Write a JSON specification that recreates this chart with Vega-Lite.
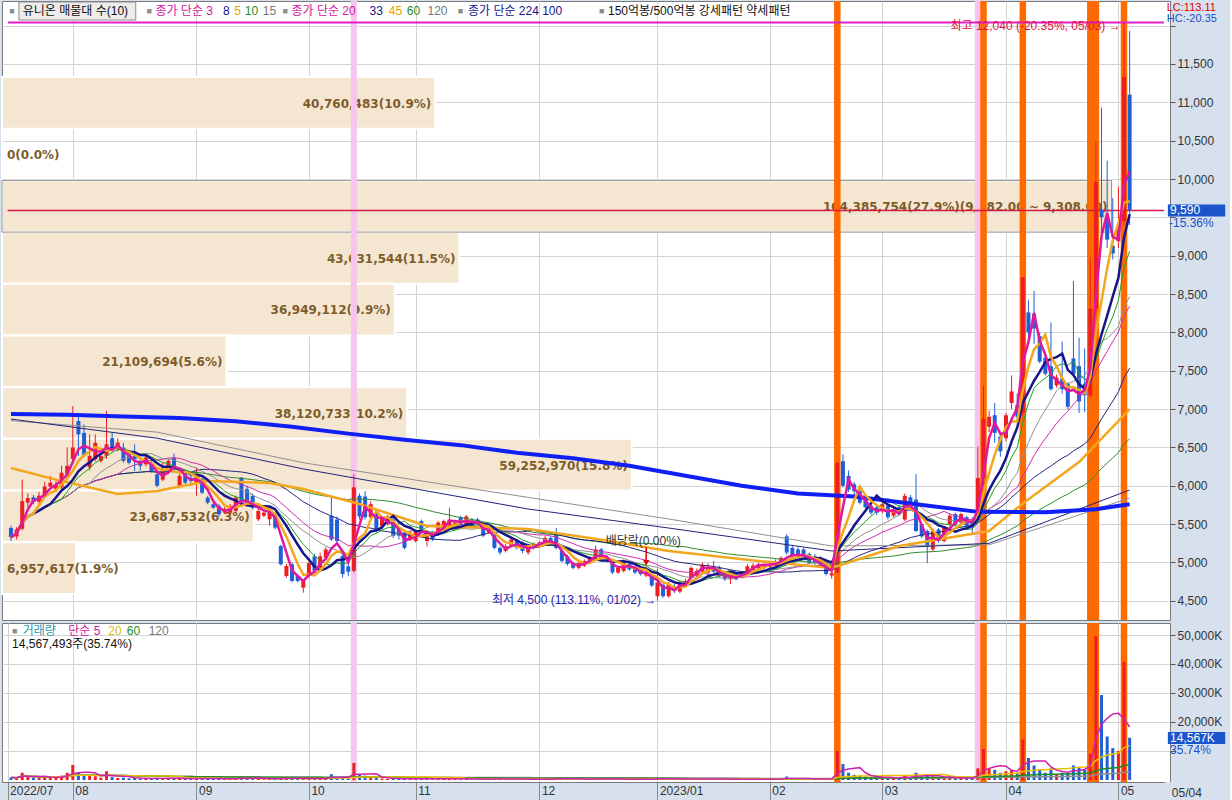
{
"$schema":"https://vega.github.io/schema/vega-lite/v6.json",
"background":"#d7e1ee",
"padding":0,
"autosize":{"type":"pad"},
"spacing":1,
"config":{
 "view":{"fill":"#ffffff","stroke":"#7a7a7a","strokeWidth":1},
 "font":"Liberation Sans, Noto Sans CJK KR",
 "text":{"font":"Liberation Sans, Noto Sans CJK KR","fontSize":12},
 "axis":{"labelFont":"Liberation Sans","labelFontSize":12,"labelColor":"#333333","gridColor":"#d3d3d3","gridWidth":1,"domainColor":"#7a7a7a","tickColor":"#555555"}
},
"datasets":{
"px":[
{"i":0,"o":5450,"h":5480,"l":5280,"c":5330,"v":900},
{"i":1,"o":5340,"h":5460,"l":5300,"c":5430,"v":700},
{"i":2,"o":5440,"h":6080,"l":5420,"c":5800,"v":2500},
{"i":3,"o":5780,"h":5900,"l":5720,"c":5840,"v":1200},
{"i":4,"o":5850,"h":5880,"l":5760,"c":5790,"v":800},
{"i":5,"o":5790,"h":5920,"l":5760,"c":5870,"v":900},
{"i":6,"o":5880,"h":6050,"l":5850,"c":5990,"v":1100},
{"i":7,"o":5990,"h":6130,"l":5950,"c":6040,"v":1000},
{"i":8,"o":5960,"h":6060,"l":5920,"c":6010,"v":700},
{"i":9,"o":5980,"h":6260,"l":5960,"c":6170,"v":1500},
{"i":10,"o":6150,"h":6500,"l":6100,"c":6260,"v":2500},
{"i":11,"o":6350,"h":7040,"l":6300,"c":6500,"v":5200},
{"i":12,"o":6845,"h":6950,"l":6390,"c":6670,"v":2600},
{"i":13,"o":6690,"h":6800,"l":6380,"c":6400,"v":1500},
{"i":14,"o":6240,"h":6670,"l":6200,"c":6390,"v":1400},
{"i":15,"o":6345,"h":6670,"l":6320,"c":6560,"v":1300},
{"i":16,"o":6324,"h":6450,"l":6300,"c":6390,"v":800},
{"i":17,"o":6390,"h":6976,"l":6350,"c":6540,"v":3000},
{"i":18,"o":6620,"h":6700,"l":6450,"c":6476,"v":1000},
{"i":19,"o":6476,"h":6620,"l":6450,"c":6563,"v":700},
{"i":20,"o":6498,"h":6560,"l":6300,"c":6324,"v":800},
{"i":21,"o":6410,"h":6460,"l":6280,"c":6300,"v":600},
{"i":22,"o":6390,"h":6540,"l":6190,"c":6345,"v":700},
{"i":23,"o":6324,"h":6350,"l":6200,"c":6260,"v":500},
{"i":24,"o":6280,"h":6400,"l":6250,"c":6367,"v":500},
{"i":25,"o":6300,"h":6330,"l":6170,"c":6193,"v":500},
{"i":26,"o":6150,"h":6180,"l":5980,"c":6000,"v":700},
{"i":27,"o":6080,"h":6300,"l":6060,"c":6200,"v":600},
{"i":28,"o":6193,"h":6350,"l":6150,"c":6324,"v":600},
{"i":29,"o":6367,"h":6420,"l":6190,"c":6215,"v":500},
{"i":30,"o":6000,"h":6170,"l":5980,"c":6130,"v":500},
{"i":31,"o":6170,"h":6200,"l":6020,"c":6040,"v":400},
{"i":32,"o":6106,"h":6150,"l":6000,"c":6063,"v":400},
{"i":33,"o":6040,"h":6237,"l":5870,"c":6150,"v":700},
{"i":34,"o":6085,"h":6100,"l":5890,"c":5910,"v":600},
{"i":35,"o":5845,"h":5870,"l":5760,"c":5780,"v":500},
{"i":36,"o":5760,"h":5790,"l":5700,"c":5715,"v":400},
{"i":37,"o":5737,"h":5760,"l":5600,"c":5628,"v":500},
{"i":38,"o":5650,"h":5720,"l":5630,"c":5693,"v":300},
{"i":39,"o":5650,"h":5760,"l":5630,"c":5737,"v":300},
{"i":40,"o":5672,"h":5870,"l":5650,"c":5845,"v":600},
{"i":41,"o":6106,"h":6115,"l":5780,"c":5802,"v":1200},
{"i":42,"o":5955,"h":6000,"l":5740,"c":5760,"v":600},
{"i":43,"o":5867,"h":5900,"l":5690,"c":5715,"v":500},
{"i":44,"o":5563,"h":5700,"l":5540,"c":5672,"v":400},
{"i":45,"o":5610,"h":5690,"l":5590,"c":5650,"v":300},
{"i":46,"o":5563,"h":5680,"l":5480,"c":5650,"v":300},
{"i":47,"o":5628,"h":5650,"l":5430,"c":5454,"v":500},
{"i":48,"o":5215,"h":5230,"l":4960,"c":4976,"v":900},
{"i":49,"o":4824,"h":4980,"l":4800,"c":4954,"v":600},
{"i":50,"o":4976,"h":5000,"l":4740,"c":4759,"v":500},
{"i":51,"o":4824,"h":4850,"l":4740,"c":4759,"v":400},
{"i":52,"o":4672,"h":4780,"l":4606,"c":4759,"v":500},
{"i":53,"o":4830,"h":5010,"l":4800,"c":4990,"v":600},
{"i":54,"o":5080,"h":5110,"l":4870,"c":4890,"v":500},
{"i":55,"o":4930,"h":5130,"l":4900,"c":5080,"v":500},
{"i":56,"o":5060,"h":5200,"l":5030,"c":5170,"v":600},
{"i":57,"o":5610,"h":5870,"l":5280,"c":5300,"v":2000},
{"i":58,"o":5560,"h":5600,"l":5250,"c":5280,"v":900},
{"i":59,"o":5084,"h":5130,"l":4800,"c":4850,"v":800},
{"i":60,"o":4950,"h":5000,"l":4820,"c":4880,"v":500},
{"i":61,"o":4890,"h":6150,"l":4870,"c":5980,"v":5900},
{"i":62,"o":5870,"h":5900,"l":5560,"c":5600,"v":1800},
{"i":63,"o":5860,"h":5930,"l":5560,"c":5590,"v":1500},
{"i":64,"o":5590,"h":5800,"l":5560,"c":5760,"v":700},
{"i":65,"o":5650,"h":5680,"l":5390,"c":5410,"v":700},
{"i":66,"o":5470,"h":5600,"l":5440,"c":5580,"v":500},
{"i":67,"o":5500,"h":5620,"l":5480,"c":5600,"v":400},
{"i":68,"o":5560,"h":5580,"l":5320,"c":5345,"v":500},
{"i":69,"o":5450,"h":5470,"l":5300,"c":5350,"v":400},
{"i":70,"o":5390,"h":5400,"l":5170,"c":5190,"v":500},
{"i":71,"o":5300,"h":5420,"l":5280,"c":5390,"v":400},
{"i":72,"o":5280,"h":5430,"l":5260,"c":5410,"v":400},
{"i":73,"o":5540,"h":5560,"l":5370,"c":5390,"v":500},
{"i":74,"o":5280,"h":5420,"l":5210,"c":5390,"v":400},
{"i":75,"o":5390,"h":5410,"l":5280,"c":5300,"v":300},
{"i":76,"o":5370,"h":5540,"l":5350,"c":5520,"v":400},
{"i":77,"o":5450,"h":5560,"l":5430,"c":5540,"v":400},
{"i":78,"o":5450,"h":5714,"l":5430,"c":5560,"v":600},
{"i":79,"o":5450,"h":5540,"l":5430,"c":5520,"v":300},
{"i":80,"o":5590,"h":5610,"l":5480,"c":5500,"v":300},
{"i":81,"o":5500,"h":5620,"l":5480,"c":5600,"v":400},
{"i":82,"o":5560,"h":5580,"l":5460,"c":5480,"v":300},
{"i":83,"o":5560,"h":5580,"l":5480,"c":5500,"v":300},
{"i":84,"o":5480,"h":5500,"l":5330,"c":5350,"v":400},
{"i":85,"o":5390,"h":5450,"l":5370,"c":5430,"v":300},
{"i":86,"o":5370,"h":5390,"l":5170,"c":5190,"v":500},
{"i":87,"o":5190,"h":5210,"l":5100,"c":5130,"v":400},
{"i":88,"o":5150,"h":5240,"l":5130,"c":5210,"v":300},
{"i":89,"o":5220,"h":5320,"l":5200,"c":5300,"v":300},
{"i":90,"o":5280,"h":5300,"l":5170,"c":5190,"v":300},
{"i":91,"o":5260,"h":5280,"l":5120,"c":5150,"v":300},
{"i":92,"o":5130,"h":5240,"l":5100,"c":5210,"v":300},
{"i":93,"o":5190,"h":5260,"l":5170,"c":5240,"v":250},
{"i":94,"o":5210,"h":5280,"l":5190,"c":5260,"v":250},
{"i":95,"o":5240,"h":5350,"l":5220,"c":5320,"v":400},
{"i":96,"o":5320,"h":5340,"l":5220,"c":5240,"v":300},
{"i":97,"o":5370,"h":5450,"l":5170,"c":5190,"v":600},
{"i":98,"o":5150,"h":5170,"l":5000,"c":5020,"v":500},
{"i":99,"o":5080,"h":5100,"l":4960,"c":4980,"v":400},
{"i":100,"o":4990,"h":5010,"l":4910,"c":4930,"v":300},
{"i":101,"o":4930,"h":5010,"l":4910,"c":4990,"v":250},
{"i":102,"o":4960,"h":5040,"l":4940,"c":5020,"v":250},
{"i":103,"o":5000,"h":5080,"l":4980,"c":5060,"v":300},
{"i":104,"o":5060,"h":5220,"l":5040,"c":5170,"v":500},
{"i":105,"o":5170,"h":5190,"l":5020,"c":5040,"v":400},
{"i":106,"o":5060,"h":5080,"l":5000,"c":5020,"v":250},
{"i":107,"o":5000,"h":5020,"l":4850,"c":4870,"v":400},
{"i":108,"o":4870,"h":4950,"l":4850,"c":4930,"v":300},
{"i":109,"o":4890,"h":5040,"l":4870,"c":5020,"v":300},
{"i":110,"o":4980,"h":5000,"l":4890,"c":4910,"v":250},
{"i":111,"o":4930,"h":4950,"l":4850,"c":4870,"v":250},
{"i":112,"o":4910,"h":4930,"l":4830,"c":4850,"v":250},
{"i":113,"o":4830,"h":4950,"l":4810,"c":4870,"v":300},
{"i":114,"o":4820,"h":4840,"l":4680,"c":4700,"v":400},
{"i":115,"o":4560,"h":4920,"l":4500,"c":4740,"v":700},
{"i":116,"o":4710,"h":4730,"l":4540,"c":4560,"v":400},
{"i":117,"o":4560,"h":4750,"l":4540,"c":4720,"v":400},
{"i":118,"o":4680,"h":4720,"l":4600,"c":4630,"v":300},
{"i":119,"o":4620,"h":4760,"l":4600,"c":4740,"v":300},
{"i":120,"o":4700,"h":4790,"l":4680,"c":4760,"v":300},
{"i":121,"o":4800,"h":4950,"l":4780,"c":4930,"v":500},
{"i":122,"o":4830,"h":4920,"l":4810,"c":4890,"v":300},
{"i":123,"o":4880,"h":5000,"l":4860,"c":4970,"v":400},
{"i":124,"o":4870,"h":4990,"l":4850,"c":4930,"v":300},
{"i":125,"o":4950,"h":5020,"l":4860,"c":4880,"v":300},
{"i":126,"o":4930,"h":4960,"l":4800,"c":4820,"v":300},
{"i":127,"o":4850,"h":4870,"l":4760,"c":4780,"v":300},
{"i":128,"o":4780,"h":4870,"l":4720,"c":4850,"v":300},
{"i":129,"o":4850,"h":4870,"l":4770,"c":4780,"v":250},
{"i":130,"o":4800,"h":4890,"l":4790,"c":4870,"v":250},
{"i":131,"o":4860,"h":4980,"l":4840,"c":4950,"v":400},
{"i":132,"o":4900,"h":4990,"l":4880,"c":4960,"v":300},
{"i":133,"o":4920,"h":5000,"l":4900,"c":4980,"v":300},
{"i":134,"o":4930,"h":5000,"l":4910,"c":4960,"v":250},
{"i":135,"o":4940,"h":5010,"l":4920,"c":4980,"v":300},
{"i":136,"o":4950,"h":5040,"l":4930,"c":5000,"v":300},
{"i":137,"o":4980,"h":5080,"l":4960,"c":5060,"v":400},
{"i":138,"o":5340,"h":5370,"l":5100,"c":5130,"v":1200},
{"i":139,"o":5190,"h":5220,"l":5060,"c":5090,"v":500},
{"i":140,"o":5170,"h":5200,"l":5060,"c":5080,"v":400},
{"i":141,"o":5170,"h":5190,"l":5090,"c":5110,"v":300},
{"i":142,"o":5110,"h":5130,"l":4980,"c":5000,"v":400},
{"i":143,"o":5080,"h":5110,"l":4970,"c":4990,"v":300},
{"i":144,"o":5060,"h":5080,"l":4950,"c":4970,"v":300},
{"i":145,"o":5020,"h":5040,"l":4830,"c":4850,"v":500},
{"i":146,"o":4830,"h":4880,"l":4790,"c":4860,"v":400},
{"i":147,"o":4870,"h":6310,"l":4860,"c":6300,"v":10000},
{"i":148,"o":6320,"h":6410,"l":5980,"c":6000,"v":5500},
{"i":149,"o":6130,"h":6200,"l":5920,"c":5950,"v":2500},
{"i":150,"o":6020,"h":6050,"l":5880,"c":5930,"v":1800},
{"i":151,"o":5930,"h":5950,"l":5760,"c":5780,"v":1500},
{"i":152,"o":5850,"h":5880,"l":5700,"c":5720,"v":1200},
{"i":153,"o":5740,"h":5760,"l":5620,"c":5650,"v":900},
{"i":154,"o":5720,"h":5750,"l":5620,"c":5650,"v":800},
{"i":155,"o":5670,"h":5790,"l":5640,"c":5760,"v":800},
{"i":156,"o":5740,"h":5770,"l":5560,"c":5590,"v":900},
{"i":157,"o":5610,"h":5720,"l":5590,"c":5690,"v":700},
{"i":158,"o":5720,"h":5750,"l":5610,"c":5630,"v":700},
{"i":159,"o":5560,"h":5900,"l":5540,"c":5870,"v":1500},
{"i":160,"o":5850,"h":5880,"l":5700,"c":5720,"v":900},
{"i":161,"o":5820,"h":6150,"l":5400,"c":5410,"v":2500},
{"i":162,"o":5500,"h":5520,"l":5320,"c":5340,"v":1200},
{"i":163,"o":5410,"h":5430,"l":4990,"c":5210,"v":1500},
{"i":164,"o":5170,"h":5440,"l":5150,"c":5410,"v":1200},
{"i":165,"o":5430,"h":5450,"l":5260,"c":5280,"v":800},
{"i":166,"o":5280,"h":5470,"l":5260,"c":5450,"v":800},
{"i":167,"o":5500,"h":5640,"l":5480,"c":5610,"v":900},
{"i":168,"o":5630,"h":5650,"l":5480,"c":5500,"v":600},
{"i":169,"o":5520,"h":5650,"l":5500,"c":5630,"v":700},
{"i":170,"o":5590,"h":5610,"l":5460,"c":5480,"v":600},
{"i":171,"o":5560,"h":5590,"l":5360,"c":5460,"v":700},
{"i":172,"o":5640,"h":6510,"l":5600,"c":6100,"v":4000},
{"i":173,"o":6100,"h":7310,"l":6000,"c":6870,"v":10700},
{"i":174,"o":6770,"h":6980,"l":6700,"c":6900,"v":4000},
{"i":175,"o":6920,"h":7080,"l":6560,"c":6690,"v":3500},
{"i":176,"o":6640,"h":6700,"l":6380,"c":6450,"v":2500},
{"i":177,"o":6620,"h":6950,"l":6580,"c":6920,"v":3000},
{"i":178,"o":7080,"h":7440,"l":7000,"c":7230,"v":3500},
{"i":179,"o":7050,"h":7200,"l":6850,"c":6900,"v":2500},
{"i":180,"o":6950,"h":8720,"l":6900,"c":8720,"v":14000},
{"i":181,"o":8260,"h":8420,"l":7850,"c":8000,"v":7600},
{"i":182,"o":8240,"h":8540,"l":7850,"c":8050,"v":5000},
{"i":183,"o":7950,"h":8000,"l":7600,"c":7620,"v":3500},
{"i":184,"o":7670,"h":7700,"l":7440,"c":7460,"v":2500},
{"i":185,"o":7560,"h":8130,"l":7240,"c":7260,"v":4000},
{"i":186,"o":7310,"h":7450,"l":7280,"c":7410,"v":2000},
{"i":187,"o":7400,"h":7880,"l":7200,"c":7260,"v":2500},
{"i":188,"o":7330,"h":7350,"l":7000,"c":7030,"v":2500},
{"i":189,"o":7660,"h":8670,"l":7430,"c":7460,"v":5000},
{"i":190,"o":7560,"h":7930,"l":6950,"c":7100,"v":4500},
{"i":191,"o":7330,"h":7790,"l":6960,"c":7180,"v":3500},
{"i":192,"o":7180,"h":8980,"l":7150,"c":8310,"v":9000},
{"i":193,"o":8310,"h":10490,"l":8250,"c":9960,"v":49600},
{"i":194,"o":9600,"h":10930,"l":9300,"c":9500,"v":29300},
{"i":195,"o":9490,"h":10240,"l":9100,"c":9210,"v":15000},
{"i":196,"o":9130,"h":9750,"l":8950,"c":9030,"v":11000},
{"i":197,"o":9190,"h":9900,"l":9100,"c":9390,"v":10000},
{"i":198,"o":9450,"h":12040,"l":9400,"c":11330,"v":40760},
{"i":199,"o":11100,"h":11930,"l":9400,"c":9590,"v":14567}
],
"vp":[
{"lo":10656,"hi":11330,"v":40760483,"lab":"40,760,483(10.9%)"},
{"lo":9982,"hi":10656,"v":0,"lab":"0(0.0%)"},
{"lo":9308,"hi":9982,"v":104385754,"lab":"104,385,754(27.9%)(9,982.00 ~ 9,308.00)"},
{"lo":8634,"hi":9308,"v":43031544,"lab":"43,031,544(11.5%)"},
{"lo":7960,"hi":8634,"v":36949112,"lab":"36,949,112(9.9%)"},
{"lo":7286,"hi":7960,"v":21109694,"lab":"21,109,694(5.6%)"},
{"lo":6612,"hi":7286,"v":38120733,"lab":"38,120,733(10.2%)"},
{"lo":5938,"hi":6612,"v":59252970,"lab":"59,252,970(15.8%)"},
{"lo":5264,"hi":5938,"v":23687532,"lab":"23,687,532(6.3%)"},
{"lo":4590,"hi":5264,"v":6957617,"lab":"6,957,617(1.9%)"}
],
"lma":[
{"k":"m224","i":0,"p":6936},{"k":"m224","i":10,"p":6925},{"k":"m224","i":20,"p":6905},{"k":"m224","i":30,"p":6885},{"k":"m224","i":40,"p":6840},{"k":"m224","i":50,"p":6770},{"k":"m224","i":60,"p":6680},{"k":"m224","i":70,"p":6600},{"k":"m224","i":80,"p":6530},{"k":"m224","i":90,"p":6430},{"k":"m224","i":100,"p":6360},{"k":"m224","i":110,"p":6260},{"k":"m224","i":120,"p":6130},{"k":"m224","i":130,"p":6000},{"k":"m224","i":140,"p":5900},{"k":"m224","i":150,"p":5860},{"k":"m224","i":160,"p":5770},{"k":"m224","i":172,"p":5660},{"k":"m224","i":184,"p":5655},{"k":"m224","i":193,"p":5695},{"k":"m224","i":199,"p":5760},
{"k":"m45","i":0,"p":6232},{"k":"m45","i":8,"p":6080},{"k":"m45","i":19,"p":5893},{"k":"m45","i":26,"p":5932},{"k":"m45","i":35,"p":6062},{"k":"m45","i":46,"p":6036},{"k":"m45","i":52,"p":5958},{"k":"m45","i":62,"p":5762},{"k":"m45","i":74,"p":5476},{"k":"m45","i":92,"p":5437},{"k":"m45","i":103,"p":5319},{"k":"m45","i":117,"p":5150},{"k":"m45","i":133,"p":5019},{"k":"m45","i":146,"p":4928},{"k":"m45","i":158,"p":5215},{"k":"m45","i":174,"p":5410},{"k":"m45","i":180,"p":5770},{"k":"m45","i":190,"p":6310},{"k":"m45","i":199,"p":6997},
{"k":"m100","i":0,"p":6870},{"k":"m100","i":26,"p":6620},{"k":"m100","i":52,"p":6220},{"k":"m100","i":92,"p":5697},{"k":"m100","i":117,"p":5449},{"k":"m100","i":146,"p":5150},{"k":"m100","i":174,"p":5250},{"k":"m100","i":199,"p":5945},
{"k":"m120","i":0,"p":6850},{"k":"m120","i":26,"p":6700},{"k":"m120","i":52,"p":6300},{"k":"m120","i":117,"p":5567},{"k":"m120","i":146,"p":5215},{"k":"m120","i":174,"p":5230},{"k":"m120","i":199,"p":5840}
]
},
"vconcat":[
{
"width":1168,"height":619,
"resolve":{"scale":{"x":"independent"}},
"layer":[
 {"data":{"name":"vp"},
  "layer":[
   {"mark":{"type":"rect","color":"#f5e6d2","stroke":"#ffffff","strokeWidth":2},
    "encoding":{"x":{"field":"v","type":"quantitative","scale":{"domain":[0,109880000],"nice":false,"zero":false},"axis":null},"x2":{"datum":0},"y":{"field":"lo","type":"quantitative","title":null},"y2":{"field":"hi"}}},
   {"transform":[{"filter":"datum.v > 100000000"}],"mark":{"type":"rect","fillOpacity":0,"stroke":"#8c8c8c","strokeWidth":1},
    "encoding":{"x":{"field":"v","type":"quantitative","axis":null},"x2":{"datum":0},"y":{"field":"lo","type":"quantitative","title":null},"y2":{"field":"hi"}}},
   {"transform":[{"filter":"datum.v > 15000000"}],"mark":{"type":"text","align":"right","baseline":"middle","dx":-4,"dy":-25,"font":"DejaVu Sans","fontWeight":"bold","fontSize":12,"color":"#7d5c2a"},
    "encoding":{"x":{"field":"v","type":"quantitative","axis":null},"y":{"field":"lo","type":"quantitative","title":null},"text":{"field":"lab"}}},
   {"transform":[{"filter":"datum.v <= 15000000"}],"mark":{"type":"text","align":"left","baseline":"middle","dx":5,"dy":-25,"font":"DejaVu Sans","fontWeight":"bold","fontSize":12,"color":"#7d5c2a"},
    "encoding":{"x":{"datum":0,"type":"quantitative","axis":null},"y":{"field":"lo","type":"quantitative","title":null},"text":{"field":"lab"}}}
  ]},
 {"resolve":{"scale":{"color":"independent"}},
  "layer":[
   {"data":{"name":"px"},
    "mark":{"type":"rule","strokeWidth":1},
    "encoding":{
     "x":{"field":"i","type":"quantitative","scale":{"domain":[-0.705,205.29],"nice":false,"zero":false},"axis":{"values":[11,33,53,72,94,115,135,155,177,197],"tickCount":30,"grid":true,"labels":false,"ticks":false,"domain":false,"title":null}},
     "y":{"field":"l","type":"quantitative","scale":{"domain":[4250,12321],"nice":false,"zero":false},"axis":{"orient":"right","title":null,"values":[4500,5000,5500,6000,6500,7000,7500,8000,8500,9000,9500,10000,10500,11000,11500,12000],"tickCount":40,"labelExpr":"datum.value >= 12000 || datum.value == 9500 ? '' : format(datum.value, ',')","labelOverlap":false,"grid":true,"tickSize":5,"labelPadding":2,"domain":true}},
     "y2":{"field":"h"},
     "opacity":{"value":0}}},
   {"data":{"values":[{"i":61},{"i":172}]},"mark":{"type":"bar","width":6,"color":"#f6c4ee"},"encoding":{"x":{"field":"i","type":"quantitative","title":null},"y":{"datum":4250,"title":null},"y2":{"datum":12321}}},
   {"data":{"values":[{"i":147},{"i":173},{"i":180},{"i":192},{"i":193},{"i":198}]},"mark":{"type":"bar","width":6.5,"color":"#ff6a00"},"encoding":{"x":{"field":"i","type":"quantitative","title":null},"y":{"datum":4250,"title":null},"y2":{"datum":12321}}},
   {"data":{"values":[{}]},"mark":{"type":"rule","color":"#e51fc8","strokeWidth":2},"encoding":{"x":{"datum":-0.53,"title":null},"x2":{"datum":205.11},"y":{"datum":12040,"title":null}}},
   {"data":{"values":[{}]},"mark":{"type":"rule","color":"#d81848","strokeWidth":1.5},"encoding":{"x":{"datum":-0.6,"title":null},"x2":{"datum":205.15},"y":{"datum":9590,"title":null}}},
   {"data":{"name":"px"},
    "mark":{"type":"rule","strokeWidth":1},
    "encoding":{
     "x":{"field":"i","type":"quantitative","title":null},
     "y":{"field":"l","type":"quantitative","title":null},
     "y2":{"field":"h"},
     "color":{"condition":{"test":"datum.c >= datum.o","value":"#ee1d23"},"value":"#1f60d8"}}},
   {"data":{"name":"px"},
    "mark":{"type":"bar","width":4},
    "encoding":{
     "x":{"field":"i","type":"quantitative","title":null},
     "y":{"field":"o","type":"quantitative","title":null},
     "y2":{"field":"c"},
     "color":{"condition":{"test":"datum.c >= datum.o","value":"#ee1d23"},"value":"#1f60d8"}}},
   {"data":{"name":"px"},
    "transform":[
     {"window":[{"op":"mean","field":"c","as":"m10"}],"frame":[-9,0],"sort":[{"field":"i"}]},
     {"window":[{"op":"mean","field":"c","as":"m15"}],"frame":[-14,0],"sort":[{"field":"i"}]},
     {"window":[{"op":"mean","field":"c","as":"m20"}],"frame":[-19,0],"sort":[{"field":"i"}]},
     {"window":[{"op":"mean","field":"c","as":"m33"}],"frame":[-32,0],"sort":[{"field":"i"}]},
     {"window":[{"op":"mean","field":"c","as":"m60"}],"frame":[-59,0],"sort":[{"field":"i"}]},
     {"fold":["m60","m33","m20","m15","m10"],"as":["k","p"]}],
    "mark":{"type":"line","strokeWidth":1},
    "encoding":{"x":{"field":"i","type":"quantitative","title":null},"y":{"field":"p","type":"quantitative","title":null},
     "color":{"field":"k","type":"nominal","scale":{"domain":["m60","m33","m20","m15","m10"],"range":["#2e8b2e","#23237e","#d12aae","#8f8f8f","#1ea01e"]},"legend":null}}},
   {"data":{"name":"lma"},"transform":[{"filter":"datum.k == 'm120'"}],"mark":{"type":"line","strokeWidth":1,"color":"#8f8f8f"},
    "encoding":{"x":{"field":"i","type":"quantitative","title":null},"y":{"field":"p","type":"quantitative","title":null}}},
   {"data":{"name":"lma"},"transform":[{"filter":"datum.k == 'm100'"}],"mark":{"type":"line","strokeWidth":1,"color":"#23237e"},
    "encoding":{"x":{"field":"i","type":"quantitative","title":null},"y":{"field":"p","type":"quantitative","title":null}}},
   {"data":{"name":"lma"},"transform":[{"filter":"datum.k == 'm45'"}],"mark":{"type":"line","strokeWidth":2.5,"color":"#f2a71c"},
    "encoding":{"x":{"field":"i","type":"quantitative","title":null},"y":{"field":"p","type":"quantitative","title":null}}},
   {"data":{"name":"lma"},"transform":[{"filter":"datum.k == 'm224'"}],"mark":{"type":"line","strokeWidth":4,"color":"#0f1ff5"},
    "encoding":{"x":{"field":"i","type":"quantitative","title":null},"y":{"field":"p","type":"quantitative","title":null}}},
   {"data":{"name":"px"},
    "transform":[
     {"window":[{"op":"mean","field":"c","as":"m3"}],"frame":[-2,0],"sort":[{"field":"i"}]},
     {"window":[{"op":"mean","field":"c","as":"m5"}],"frame":[-4,0],"sort":[{"field":"i"}]},
     {"window":[{"op":"mean","field":"c","as":"m8"}],"frame":[-7,0],"sort":[{"field":"i"}]},
     {"fold":["m8","m5","m3"],"as":["k","p"]}],
    "mark":{"type":"line","strokeWidth":2.5},
    "encoding":{"x":{"field":"i","type":"quantitative","title":null},"y":{"field":"p","type":"quantitative","title":null},
     "color":{"field":"k","type":"nominal","scale":{"domain":["m8","m5","m3"],"range":["#16168a","#f2a71c","#e0189e"]},"legend":null}}},
   {"data":{"values":[{}]},"mark":{"type":"rect","fill":"#ececec","stroke":"#8c8c8c"},"encoding":{"x":{"datum":1.41,"type":"quantitative","title":null},"x2":{"datum":22.2},"y":{"datum":12308,"type":"quantitative","title":null},"y2":{"datum":12073}}},
   {"data":{"values":[{}]},"mark":{"type":"text","text":"■","color":"#8c8c8c","align":"left","baseline":"middle","fontSize":9},"encoding":{"x":{"datum":-0.3},"y":{"datum":12191}}},
   {"data":{"values":[{}]},"mark":{"type":"text","text":"유니온 매물대 수(10)","color":"#111111","align":"left","baseline":"middle"},"encoding":{"x":{"datum":2.1},"y":{"datum":12191}}},
   {"data":{"values":[{}]},"mark":{"type":"text","text":"■","color":"#8c8c8c","align":"left","baseline":"middle","fontSize":9},"encoding":{"x":{"datum":24.1},"y":{"datum":12191}}},
   {"data":{"values":[{}]},"mark":{"type":"text","text":"종가 단순 3","color":"#d0179c","align":"left","baseline":"middle"},"encoding":{"x":{"datum":25.7},"y":{"datum":12191}}},
   {"data":{"values":[{}]},"mark":{"type":"text","text":"8","color":"#16168a","align":"left","baseline":"middle"},"encoding":{"x":{"datum":37.7},"y":{"datum":12191}}},
   {"data":{"values":[{}]},"mark":{"type":"text","text":"5","color":"#e6a000","align":"left","baseline":"middle"},"encoding":{"x":{"datum":39.7},"y":{"datum":12191}}},
   {"data":{"values":[{}]},"mark":{"type":"text","text":"10","color":"#1e8c1e","align":"left","baseline":"middle"},"encoding":{"x":{"datum":41.6},"y":{"datum":12191}}},
   {"data":{"values":[{}]},"mark":{"type":"text","text":"15","color":"#777777","align":"left","baseline":"middle"},"encoding":{"x":{"datum":44.8},"y":{"datum":12191}}},
   {"data":{"values":[{}]},"mark":{"type":"text","text":"■","color":"#8c8c8c","align":"left","baseline":"middle","fontSize":9},"encoding":{"x":{"datum":48.3},"y":{"datum":12191}}},
   {"data":{"values":[{}]},"mark":{"type":"text","text":"종가 단순 20","color":"#d0179c","align":"left","baseline":"middle"},"encoding":{"x":{"datum":49.9},"y":{"datum":12191}}},
   {"data":{"values":[{}]},"mark":{"type":"text","text":"33","color":"#16168a","align":"left","baseline":"middle"},"encoding":{"x":{"datum":63.8},"y":{"datum":12191}}},
   {"data":{"values":[{}]},"mark":{"type":"text","text":"45","color":"#e6a000","align":"left","baseline":"middle"},"encoding":{"x":{"datum":67.2},"y":{"datum":12191}}},
   {"data":{"values":[{}]},"mark":{"type":"text","text":"60","color":"#1e8c1e","align":"left","baseline":"middle"},"encoding":{"x":{"datum":70.4},"y":{"datum":12191}}},
   {"data":{"values":[{}]},"mark":{"type":"text","text":"120","color":"#777777","align":"left","baseline":"middle"},"encoding":{"x":{"datum":74.1},"y":{"datum":12191}}},
   {"data":{"values":[{}]},"mark":{"type":"text","text":"■","color":"#8c8c8c","align":"left","baseline":"middle","fontSize":9},"encoding":{"x":{"datum":79.5},"y":{"datum":12191}}},
   {"data":{"values":[{}]},"mark":{"type":"text","text":"종가 단순 224  100","color":"#16168a","align":"left","baseline":"middle"},"encoding":{"x":{"datum":81.3},"y":{"datum":12191}}},
   {"data":{"values":[{}]},"mark":{"type":"text","text":"■","color":"#8c8c8c","align":"left","baseline":"middle","fontSize":9},"encoding":{"x":{"datum":104.6},"y":{"datum":12191}}},
   {"data":{"values":[{}]},"mark":{"type":"text","text":"150억봉/500억봉 강세패턴  약세패턴","color":"#111111","align":"left","baseline":"middle"},"encoding":{"x":{"datum":106.2},"y":{"datum":12191}}},
   {"data":{"values":[{}]},"mark":{"type":"text","text":"최고 12,040 (-20.35%, 05/03) →","color":"#e0143c","align":"right","baseline":"middle"},"encoding":{"x":{"datum":197.4},"y":{"datum":11996}}},
   {"data":{"values":[{}]},"mark":{"type":"text","text":"최저 4,500 (113.11%, 01/02) →","color":"#1c1cb0","align":"right","baseline":"middle"},"encoding":{"x":{"datum":114.8},"y":{"datum":4513}}},
   {"data":{"values":[{}]},"mark":{"type":"text","text":"배당락(0.00%)","color":"#333333","align":"left","baseline":"middle"},"encoding":{"x":{"datum":105.8},"y":{"datum":5280}}},
   {"data":{"values":[{}]},"mark":{"type":"rule","color":"#e00000","strokeWidth":1.5},"encoding":{"x":{"datum":113},"y":{"datum":5200},"y2":{"datum":5010}}},
   {"data":{"values":[{}]},"mark":{"type":"point","shape":"triangle-down","filled":true,"color":"#e00000","size":40,"opacity":1},"encoding":{"x":{"datum":113},"y":{"datum":4995}}},
   {"data":{"values":[{}]},"mark":{"type":"text","text":"LC:113.11","color":"#e00000","align":"left","baseline":"middle","fontSize":11},"encoding":{"x":{"datum":205.6},"y":{"datum":12235}}},
   {"data":{"values":[{}]},"mark":{"type":"text","text":"HC:-20.35","color":"#1a4fc8","align":"left","baseline":"middle","fontSize":11},"encoding":{"x":{"datum":205.6},"y":{"datum":12080}}},
   {"data":{"values":[{}]},"mark":{"type":"rect","fill":"#1a55cc"},"encoding":{"x":{"datum":205.8,"type":"quantitative"},"x2":{"datum":216.0},"y":{"datum":9668,"type":"quantitative"},"y2":{"datum":9512}}},
   {"data":{"values":[{}]},"mark":{"type":"text","text":"9,590","color":"#ffffff","align":"left","baseline":"middle"},"encoding":{"x":{"datum":206.2},"y":{"datum":9590}}},
   {"data":{"values":[{}]},"mark":{"type":"text","text":"-15.36%","color":"#1a4fc8","align":"left","baseline":"middle"},"encoding":{"x":{"datum":206.0},"y":{"datum":9420}}}
  ]}
]},
{
"width":1168,"height":159,
"resolve":{"scale":{"color":"independent"}},
"layer":[
 {"data":{"name":"px"},
  "mark":{"type":"bar","width":3},
  "encoding":{
   "x":{"field":"i","type":"quantitative","scale":{"domain":[-0.705,205.29],"nice":false,"zero":false},
    "axis":{"orient":"bottom","title":null,"values":[-0.6,11,33,53,72,94,115,135,155,177,197],"tickCount":30,
     "labelExpr":"datum.value < 1 ? '2022/07' : datum.value == 11 ? '08' : datum.value == 33 ? '09' : datum.value == 53 ? '10' : datum.value == 72 ? '11' : datum.value == 94 ? '12' : datum.value == 115 ? '2023/01' : datum.value == 135 ? '02' : datum.value == 155 ? '03' : datum.value == 177 ? '04' : '05'",
     "grid":true,"ticks":true,"tickSize":20,"tickColor":"#8a8a8a","domain":true,"labelAlign":"left","labelBaseline":"top","labelPadding":-17,"labelOffset":2,"labelFlush":false,"labelOverlap":false,"labelBound":false}},
   "y":{"field":"v","type":"quantitative","scale":{"domain":[-690,54138],"nice":false,"zero":false},
    "axis":{"orient":"right","title":null,"values":[10000,20000,30000,40000,50000],"tickCount":20,"labelExpr":"datum.value == 10000 ? '' : format(datum.value, ',') + 'K'","labelOverlap":false,"grid":true,"tickSize":5,"labelPadding":2}},
   "opacity":{"value":0}}},
 {"data":{"values":[{"i":61},{"i":172}]},"mark":{"type":"bar","width":6,"color":"#f6c4ee"},"encoding":{"x":{"field":"i","type":"quantitative","title":null},"y":{"datum":-690,"title":null},"y2":{"datum":54138}}},
 {"data":{"values":[{"i":147},{"i":173},{"i":180},{"i":192},{"i":193},{"i":198}]},"mark":{"type":"bar","width":6.5,"color":"#ff6a00"},"encoding":{"x":{"field":"i","type":"quantitative","title":null},"y":{"datum":-690,"title":null},"y2":{"datum":54138}}},
 {"data":{"name":"px"},
  "mark":{"type":"bar","width":3},
  "encoding":{
   "x":{"field":"i","type":"quantitative","title":null},
   "y":{"field":"v","type":"quantitative","title":null},
   "color":{"condition":{"test":"datum.c >= datum.o","value":"#ee1d23"},"value":"#1f60d8"}}},
 {"data":{"name":"px"},
  "transform":[
   {"window":[{"op":"mean","field":"v","as":"mv5"}],"frame":[-4,0],"sort":[{"field":"i"}]},
   {"window":[{"op":"mean","field":"v","as":"mv20"}],"frame":[-19,0],"sort":[{"field":"i"}]},
   {"window":[{"op":"mean","field":"v","as":"mv60"}],"frame":[-59,0],"sort":[{"field":"i"}]},
   {"window":[{"op":"mean","field":"v","as":"mv120"}],"frame":[-119,0],"sort":[{"field":"i"}]},
   {"fold":["mv120","mv60","mv20","mv5"],"as":["k","p"]}],
  "mark":{"type":"line","strokeWidth":1.5},
  "encoding":{"x":{"field":"i","type":"quantitative","title":null},"y":{"field":"p","type":"quantitative","title":null},
   "color":{"field":"k","type":"nominal","scale":{"domain":["mv120","mv60","mv20","mv5"],"range":["#8f8f8f","#1e8c1e","#e8c000","#d020b0"]},"legend":null}}},
 {"data":{"values":[{}]},"mark":{"type":"text","text":"■","color":"#8c8c8c","align":"left","baseline":"middle","fontSize":9},"encoding":{"x":{"datum":0.2},"y":{"datum":51380}}},
 {"data":{"values":[{}]},"mark":{"type":"text","text":"거래량","color":"#2a9aaa","align":"left","baseline":"middle"},"encoding":{"x":{"datum":2.1},"y":{"datum":51380}}},
 {"data":{"values":[{}]},"mark":{"type":"text","text":"단순 5","color":"#d0179c","align":"left","baseline":"middle"},"encoding":{"x":{"datum":10.2},"y":{"datum":51380}}},
 {"data":{"values":[{}]},"mark":{"type":"text","text":"20","color":"#e0c000","align":"left","baseline":"middle"},"encoding":{"x":{"datum":17.3},"y":{"datum":51380}}},
 {"data":{"values":[{}]},"mark":{"type":"text","text":"60","color":"#1e8c1e","align":"left","baseline":"middle"},"encoding":{"x":{"datum":20.6},"y":{"datum":51380}}},
 {"data":{"values":[{}]},"mark":{"type":"text","text":"120","color":"#777777","align":"left","baseline":"middle"},"encoding":{"x":{"datum":24.5},"y":{"datum":51380}}},
 {"data":{"values":[{}]},"mark":{"type":"text","text":"14,567,493주(35.74%)","color":"#111111","align":"left","baseline":"middle"},"encoding":{"x":{"datum":0.2},"y":{"datum":46900}}},
 {"data":{"values":[{}]},"mark":{"type":"rect","fill":"#1a55cc"},"encoding":{"x":{"datum":205.8,"type":"quantitative"},"x2":{"datum":216.0},"y":{"datum":16552,"type":"quantitative"},"y2":{"datum":12414}}},
 {"data":{"values":[{}]},"mark":{"type":"text","text":"14,567K","color":"#ffffff","align":"left","baseline":"middle"},"encoding":{"x":{"datum":206.2},"y":{"datum":14500}}},
 {"data":{"values":[{}]},"mark":{"type":"text","text":"35.74%","color":"#1a4fc8","align":"left","baseline":"middle"},"encoding":{"x":{"datum":206.2},"y":{"datum":10345}}},
 {"data":{"values":[{}]},"mark":{"type":"rect","fill":"#d7e1ee"},"encoding":{"x":{"datum":205.29,"type":"quantitative"},"x2":{"datum":216.6},"y":{"datum":-690,"type":"quantitative"},"y2":{"datum":-7800}}},
 {"data":{"values":[{}]},"mark":{"type":"text","text":"05/04","color":"#333333","align":"left","baseline":"middle"},"encoding":{"x":{"datum":206.5},"y":{"datum":-4480}}}
]}
]
}
